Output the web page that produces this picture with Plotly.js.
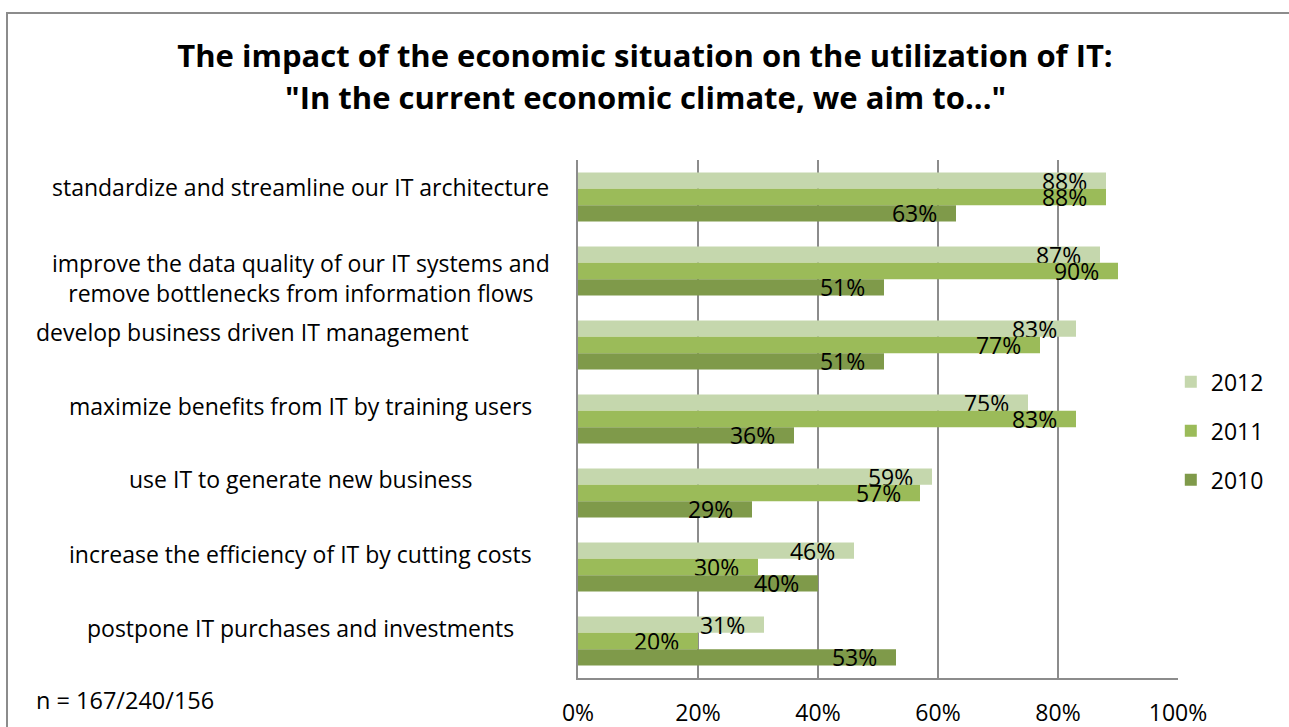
<!DOCTYPE html>
<html>
<head>
<meta charset="utf-8">
<script src="https://cdn.plot.ly/plotly-3.0.1.min.js"></script>
<style>
  html, body { margin: 0; padding: 0; background: #fff; overflow: hidden; }
  #wrap { position: relative; width: 1289px; height: 727px; }
  #chart { width: 1289px; height: 727px; }
  #frame { position: absolute; left: 6px; top: 12px; width: 2000px; height: 2000px;
           border-left: 2px solid #8c8c8c; border-top: 2px solid #8c8c8c; pointer-events: none; }
</style>
</head>
<body>
<div id="wrap">
  <div id="chart"></div>
  <div id="frame"></div>
</div>
<script>
// ---- data ----
const categories = [
  "standardize and streamline our IT architecture",
  "improve the data quality of our IT systems and<br>remove bottlenecks from information flows",
  "develop business driven IT management",
  "maximize benefits from IT by training users",
  "use IT to generate new business",
  "increase the efficiency of IT by cutting costs",
  "postpone IT purchases and investments"
];
const seriesNames = ["2012", "2011", "2010"];
const values2012 = [88, 87, 83, 75, 59, 46, 31];
const values2011 = [88, 90, 77, 83, 57, 30, 20];
const values2010 = [63, 51, 51, 36, 29, 40, 53];
const xTickVals = [0, 20, 40, 60, 80, 100];
const titleLine1 = "The impact of the economic situation on the utilization of IT:";
const titleLine2 = "\"In the current economic climate, we aim to...\"";
const noteText = "n = 167/240/156";

// ---- styles ----
const FONT = "'Open Sans', Carlito, Calibri, sans-serif";
const colors = ["#c5d7ad", "#9bbb59", "#7f9a4a"];
const seriesValues = [values2012, values2011, values2010];
const PAD = "\u00a0\u00a0\u2009";

const traces = seriesNames.map((name, i) => ({
  type: "bar",
  orientation: "h",
  name: name,
  legendgroup: name,
  y: categories,
  x: seriesValues[i],
  text: seriesValues[i].map(v => v + "%" + PAD),
  texttemplate: "%{text}",
  marker: { color: colors[i], line: { width: 0 } },
  textposition: "inside",
  insidetextanchor: "end",
  textangle: 0,
  constraintext: "none",
  insidetextfont: { family: FONT, size: 23, color: "#000" },
  hoverinfo: "x+name"
}));

// category label placement (pixel tweaks to mimic original)
const labelX = [-0.4617, -0.4617, -0.9067, -0.4617, -0.4617, -0.4617, -0.4617];
const labelAnchor = ["center", "center", "left", "center", "center", "center", "center"];
const labelShift = [10, -7, 13, 13, 14, 13, 13];

const annotations = categories.map((c, i) => ({
  xref: "paper", yref: "y",
  x: labelX[i], y: c,
  xanchor: labelAnchor[i], yanchor: "middle",
  yshift: labelShift[i],
  text: c, showarrow: false, align: "center",
  font: { family: FONT, size: 23, color: "#000" }
}));
annotations.push({
  xref: "paper", yref: "paper",
  x: -0.9067, y: -0.0425, xanchor: "left", yanchor: "middle",
  text: noteText, showarrow: false,
  font: { family: FONT, size: 23.5, color: "#000" }
});
// second title line
annotations.push({
  xref: "paper", yref: "paper",
  x: (645 - 578) / 600, y: (678 - 97) / 518, xanchor: "center", yanchor: "middle",
  text: "<b>" + titleLine2 + "</b>", showarrow: false,
  font: { family: FONT, size: 31, color: "#000" }
});

const layout = {
  width: 1289, height: 727,
  margin: { l: 578, r: 111, t: 160, b: 49 },
  paper_bgcolor: "#fff", plot_bgcolor: "#fff",
  title: {
    text: "<b>" + titleLine1 + "</b>",
    font: { family: FONT, size: 31, color: "#000" },
    xref: "container", x: 645 / 1289, xanchor: "center",
    yref: "container", y: 1 - 56 / 727, yanchor: "middle"
  },
  barmode: "group",
  bargap: 0.338,
  bargroupgap: 0,
  xaxis: {
    range: [0, 100],
    tickvals: xTickVals,
    ticktext: xTickVals.map(v => v + "%"),
    showgrid: true, gridcolor: "#8c8c8c", gridwidth: 2,
    showline: true, linecolor: "#8c8c8c", linewidth: 2,
    zeroline: false,
    ticks: "", ticklabelstandoff: 13,
    tickfont: { family: FONT, size: 23, color: "#000" },
    fixedrange: true
  },
  yaxis: {
    autorange: "reversed",
    showticklabels: false,
    showline: true, linecolor: "#8c8c8c", linewidth: 2,
    showgrid: false, zeroline: false, ticks: "",
    fixedrange: true
  },
  legend: {
    x: 0.988, xanchor: "left",
    y: 0.477, yanchor: "middle",
    traceorder: "grouped",
    tracegroupgap: 16,
    font: { family: FONT, size: 23, color: "#000" },
    bgcolor: "rgba(0,0,0,0)"
  },
  annotations: annotations,
  showlegend: true
};

Plotly.newPlot("chart", traces, layout, { displayModeBar: false, staticPlot: true });
</script>
</body>
</html>
